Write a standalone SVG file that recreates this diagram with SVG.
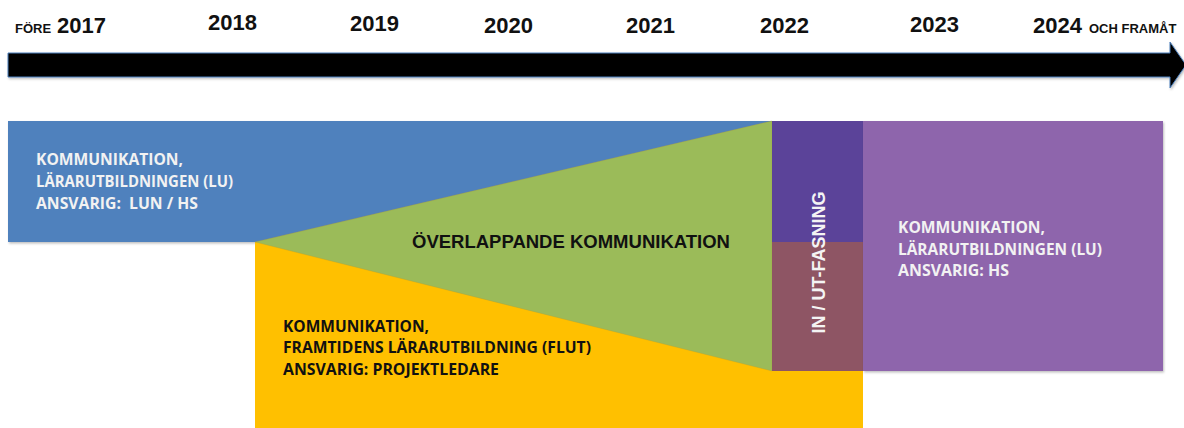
<svg xmlns="http://www.w3.org/2000/svg" width="1184" height="428" viewBox="0 0 1184 428">
<defs>
<style>
.yr{font-family:"Liberation Sans",Arial,sans-serif;font-weight:bold;font-size:22px;fill:#111}
.sm{font-family:"Liberation Sans",Arial,sans-serif;font-weight:bold;font-size:13px;fill:#111}
.lbl{font-family:"Open Sans","Liberation Sans",sans-serif;font-weight:bold;font-size:15.5px}
.w{fill:#f2f2f2}
.k{fill:#111}
.big{font-family:"Liberation Sans",Arial,sans-serif;font-weight:bold;font-size:18.5px;fill:#111}
.rot{font-family:"Liberation Sans",Arial,sans-serif;font-weight:bold;font-size:18px;fill:#f4f4f4}
</style>
<filter id="sh" x="-5%" y="-5%" width="110%" height="115%">
<feDropShadow dx="1" dy="1.5" stdDeviation="1.2" flood-color="#000" flood-opacity="0.25"/>
</filter>
</defs>
<rect width="1184" height="428" fill="#ffffff"/>
<g id="timeline">
<path d="M8,53 H1170 V42 L1186,65 L1170,88 V77 H8 Z" fill="#000" stroke="#4a7ebb" stroke-width="1" filter="url(#sh)"/>
<text class="sm" x="15" y="33">FÖRE</text>
<text class="yr" x="57" y="33">2017</text>
<text class="yr" x="208" y="30">2018</text>
<text class="yr" x="350" y="31">2019</text>
<text class="yr" x="484" y="33">2020</text>
<text class="yr" x="626" y="33">2021</text>
<text class="yr" x="760" y="33">2022</text>
<text class="yr" x="910" y="32">2023</text>
<text class="yr" x="1033" y="33">2024</text>
<text class="sm" x="1089" y="33">OCH FRAMÅT</text>
</g>
<g id="lu-old">
<rect x="8" y="121" width="764" height="121" fill="#4f81bd" filter="url(#sh)"/>
<text class="lbl w" x="36" y="165" textLength="147" lengthAdjust="spacingAndGlyphs">KOMMUNIKATION,</text>
<text class="lbl w" x="36" y="187" textLength="197" lengthAdjust="spacingAndGlyphs">LÄRARUTBILDNINGEN (LU)</text>
<text class="lbl w" x="36" y="209" textLength="162" lengthAdjust="spacingAndGlyphs" xml:space="preserve">ANSVARIG:  LUN / HS</text>
</g>
<g id="flut">
<rect x="255" y="242" width="608" height="190" fill="#ffc000"/>
<text class="lbl k" x="283" y="332" textLength="146" lengthAdjust="spacingAndGlyphs">KOMMUNIKATION,</text>
<text class="lbl k" x="283" y="353" textLength="308" lengthAdjust="spacingAndGlyphs">FRAMTIDENS LÄRARUTBILDNING (FLUT)</text>
<text class="lbl k" x="283" y="375" textLength="216" lengthAdjust="spacingAndGlyphs">ANSVARIG: PROJEKTLEDARE</text>
</g>
<g id="overlap">
<polygon points="255,242 772,121 772,371" fill="#9bbb59" stroke="#b79a2a" stroke-width="0.6" stroke-opacity="0.5"/>
<text class="big" x="412" y="248">ÖVERLAPPANDE KOMMUNIKATION</text>
</g>
<g id="phase">
<rect x="772" y="121" width="91" height="121" fill="#5b4399"/>
<rect x="772" y="242" width="91" height="129" fill="#8e5564"/>
<text class="rot" transform="translate(825,262.5) rotate(-90)" text-anchor="middle">IN / UT-FASNING</text>
</g>
<g id="lu-new">
<rect x="863" y="121" width="300" height="250" fill="#8e65ac" filter="url(#sh)"/>
<text class="lbl w" x="898" y="233" textLength="147" lengthAdjust="spacingAndGlyphs">KOMMUNIKATION,</text>
<text class="lbl w" x="898" y="255" textLength="204" lengthAdjust="spacingAndGlyphs">LÄRARUTBILDNINGEN (LU)</text>
<text class="lbl w" x="898" y="276" textLength="111" lengthAdjust="spacingAndGlyphs">ANSVARIG: HS</text>
</g>
<g id="connectors"></g>
</svg>
